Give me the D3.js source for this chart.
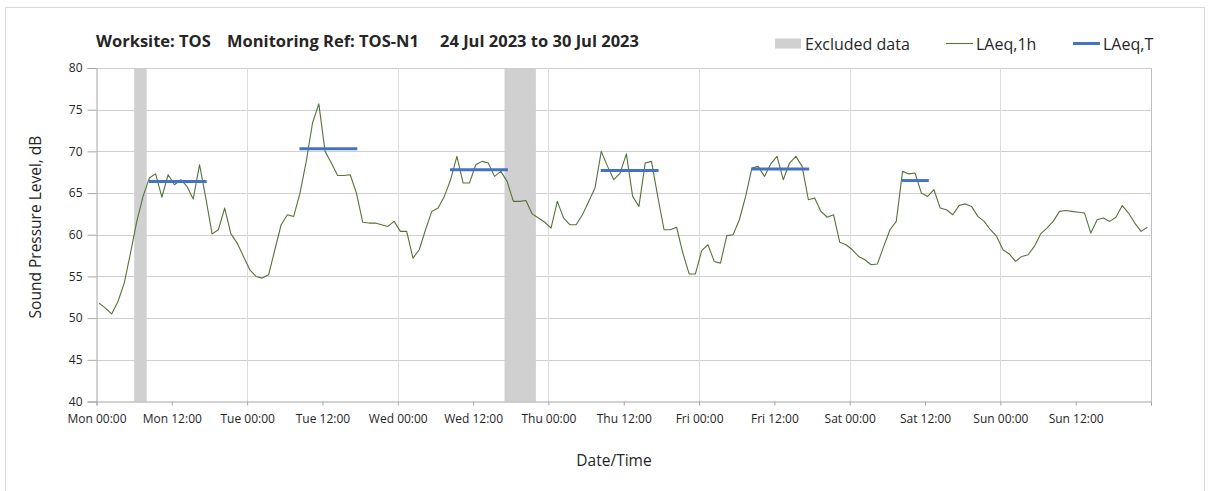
<!DOCTYPE html>
<html>
<head>
<meta charset="utf-8">
<script src="https://cdn.jsdelivr.net/npm/d3@7/dist/d3.min.js"></script>
<style>
  html, body { margin: 0; padding: 0; background: #ffffff; }
  svg { display: block; }
  text { font-family: "Open Sans", "Noto Sans", sans-serif; fill: #262626; }
</style>
</head>
<body>
<svg id="chart" width="1208" height="491"></svg>
<script>
// ---------------- DATA ----------------
const titleParts = ["Worksite: TOS", "Monitoring Ref: TOS-N1", "24 Jul 2023 to 30 Jul 2023"];
const startDate = new Date(2023, 6, 24, 0, 0);   // Mon 24 Jul 2023 00:00
const endDate = new Date(2023, 6, 31, 0, 0);     // Mon 31 Jul 2023 00:00
const sampleOffsetMinutes = 25;                  // hourly samples logged at HH:25

// LAeq,1h hourly values (dB), Mon 00 .. Sun 23
const laeq1h = [
  51.8, 51.2, 50.5, 52.0, 54.2, 57.8, 61.6, 64.6, 66.8, 67.3, 64.5, 67.2,
  66.0, 66.6, 65.8, 64.3, 68.4, 64.4, 60.1, 60.6, 63.2, 60.1, 59.0, 57.4,
  55.8, 55.0, 54.8, 55.2, 58.2, 61.2, 62.4, 62.2, 65.0, 68.8, 73.4, 75.7,
  70.0, 68.6, 67.1, 67.1, 67.2, 65.0, 61.5, 61.4, 61.4, 61.2, 61.0, 61.6,
  60.4, 60.4, 57.2, 58.2, 60.6, 62.8, 63.2, 64.6, 66.6, 69.4, 66.2, 66.2,
  68.4, 68.8, 68.6, 67.0, 67.6, 66.4, 64.0, 64.0, 64.1, 62.5, 62.0, 61.5,
  60.8, 64.0, 62.0, 61.2, 61.2, 62.4, 64.0, 65.6, 70.0, 68.2, 66.6, 67.4,
  69.7, 64.6, 63.4, 68.6, 68.8, 64.6, 60.6, 60.6, 60.9, 57.8, 55.3, 55.3,
  58.1, 58.8, 56.8, 56.6, 59.9, 60.0, 61.8, 64.6, 68.0, 68.2, 67.0, 68.5,
  69.4, 66.6, 68.6, 69.4, 68.2, 64.2, 64.4, 62.8, 62.1, 62.4, 59.1, 58.8,
  58.2, 57.4, 57.0, 56.4, 56.5, 58.6, 60.6, 61.6, 67.6, 67.3, 67.4, 65.0,
  64.6, 65.4, 63.2, 63.0, 62.4, 63.5, 63.7, 63.4, 62.2, 61.6, 60.6, 59.8,
  58.2, 57.7, 56.8, 57.4, 57.6, 58.6, 60.1, 60.8, 61.6, 62.8, 62.9, 62.8,
  62.7, 62.6, 60.2, 61.8, 62.0, 61.6, 62.1, 63.5, 62.6, 61.4, 60.4, 60.9
];

// LAeq,T daytime periods: day index, start hour, end hour, value
const laeqTDays   = [0, 1, 2, 3, 4, 5];
const laeqTStart  = [8.33, 8.33, 8.33, 8.33, 8.33, 8.33];
const laeqTEnd    = [17.55, 17.55, 17.55, 17.55, 17.55, 12.6];
const laeqTValues = [66.4, 70.3, 67.8, 67.7, 67.9, 66.5];

// Excluded data periods (hours from start)
const excludedStart = [6, 65];
const excludedEnd   = [8, 70];

const yTicks = [40, 45, 50, 55, 60, 65, 70, 75, 80];
const yTitle = "Sound Pressure Level, dB";
const xTitle = "Date/Time";
const legendLabels = ["Excluded data", "LAeq,1h", "LAeq,T"];

// ---------------- CHART ----------------
const svg = d3.select("#chart");
const plot = { left: 96.5, right: 1151, top: 68, bottom: 401.5 };

const hourMs = 3600 * 1000;
const addHours = h => new Date(startDate.getTime() + h * hourMs);

const x = d3.scaleTime().domain([startDate, endDate]).range([plot.left, plot.right]);
const y = d3.scaleLinear().domain([40, 80]).range([plot.bottom, plot.top]);

// outer frame
svg.append("rect")
  .attr("x", 5.5).attr("y", 7.5).attr("width", 1199).attr("height", 500)
  .attr("fill", "none").attr("stroke", "#d9d9d9").attr("stroke-width", 1);

// excluded bands
svg.append("g").selectAll("rect")
  .data(excludedStart.map((s, i) => ({ s, e: excludedEnd[i] })))
  .join("rect")
  .attr("x", d => x(addHours(d.s)))
  .attr("width", d => x(addHours(d.e)) - x(addHours(d.s)))
  .attr("y", plot.top)
  .attr("height", plot.bottom - plot.top)
  .attr("fill", "#d0d0d0");

// horizontal gridlines
svg.append("g").selectAll("line")
  .data(yTicks.filter(t => t > 40))
  .join("line")
  .attr("x1", plot.left).attr("x2", plot.right)
  .attr("y1", d => Math.round(y(d)) + 0.5).attr("y2", d => Math.round(y(d)) + 0.5)
  .attr("stroke", "#cfcfcf").attr("stroke-width", 1);

// vertical gridlines (day boundaries)
const dayTicks = d3.timeDay.range(d3.timeDay.offset(startDate, 1), d3.timeDay.offset(endDate, 1));
svg.append("g").selectAll("line")
  .data(dayTicks)
  .join("line")
  .attr("x1", d => Math.round(x(d)) + 0.5).attr("x2", d => Math.round(x(d)) + 0.5)
  .attr("y1", plot.top).attr("y2", plot.bottom)
  .attr("stroke", d => (+d === +endDate ? "#bfbfbf" : "#dcdcdc")).attr("stroke-width", 1);

// LAeq,1h line
const series = laeq1h.map((v, i) => ({ t: new Date(startDate.getTime() + i * hourMs + sampleOffsetMinutes * 60000), v }));
svg.append("path")
  .datum(series)
  .attr("fill", "none")
  .attr("stroke", "#55733a")
  .attr("stroke-width", 1.1)
  .attr("stroke-linejoin", "round")
  .attr("d", d3.line().x(d => x(d.t)).y(d => y(d.v)));

// LAeq,T segments
svg.append("g").selectAll("line")
  .data(laeqTDays.map((d, i) => ({ d, s: laeqTStart[i], e: laeqTEnd[i], v: laeqTValues[i] })))
  .join("line")
  .attr("x1", d => x(addHours(d.d * 24 + d.s)))
  .attr("x2", d => x(addHours(d.d * 24 + d.e)))
  .attr("y1", d => y(d.v)).attr("y2", d => y(d.v))
  .attr("stroke", "#4472c4").attr("stroke-width", 3);

// axes
const yAxis = d3.axisLeft(y).tickValues(yTicks).tickSize(9).tickPadding(5).tickFormat(d3.format("d"));
const yG = svg.append("g").attr("transform", `translate(${plot.left},0)`).call(yAxis);
yG.select(".domain").attr("stroke", "#a6a6a6");
yG.selectAll(".tick line").attr("stroke", "#a6a6a6");
yG.selectAll(".tick text").attr("font-size", 12).attr("fill", "#404040")
  .attr("font-family", "'Open Sans', sans-serif");

const xTickVals = d3.timeHour.every(12).range(startDate, d3.timeHour.offset(endDate, 1));
const fmt = d3.timeFormat("%a %H:%M");
const xAxis = d3.axisBottom(x).tickValues(xTickVals).tickSize(4).tickPadding(9)
  .tickFormat(d => (+d === +endDate ? "" : fmt(d)));
const xG = svg.append("g").attr("transform", `translate(0,${plot.bottom})`).call(xAxis);
xG.select(".domain").attr("stroke", "#a6a6a6");
xG.selectAll(".tick line").attr("stroke", "#a6a6a6");
xG.selectAll(".tick text").attr("font-size", 12).attr("fill", "#404040")
  .attr("font-family", "'Open Sans', sans-serif");

// axis titles
svg.append("text")
  .attr("transform", `translate(41,227) rotate(-90)`)
  .attr("text-anchor", "middle")
  .attr("font-size", 15.5)
  .text(yTitle);
svg.append("text")
  .attr("x", 614).attr("y", 466)
  .attr("text-anchor", "middle")
  .attr("font-size", 15.5)
  .text(xTitle);

// title
const titleX = [96, 227, 440];
titleParts.forEach((t, i) => {
  svg.append("text")
    .attr("x", titleX[i]).attr("y", 47)
    .attr("font-size", 16.5).attr("font-weight", "bold")
    .attr("fill", "#1a1a1a")
    .attr("font-family", "Lato, 'Open Sans', sans-serif")
    .text(t);
});

// legend
const lg = svg.append("g");
lg.append("rect").attr("x", 775).attr("y", 38.5).attr("width", 26).attr("height", 10).attr("fill", "#d0d0d0");
lg.append("text").attr("x", 805).attr("y", 49.5).attr("font-size", 16).text(legendLabels[0]);
lg.append("line").attr("x1", 946).attr("x2", 973).attr("y1", 43.5).attr("y2", 43.5)
  .attr("stroke", "#55733a").attr("stroke-width", 1.1);
lg.append("text").attr("x", 976).attr("y", 49.5).attr("font-size", 16).text(legendLabels[1]);
lg.append("line").attr("x1", 1073).attr("x2", 1100).attr("y1", 43.5).attr("y2", 43.5)
  .attr("stroke", "#4472c4").attr("stroke-width", 3);
lg.append("text").attr("x", 1103).attr("y", 49.5).attr("font-size", 16).text(legendLabels[2]);
</script>
</body>
</html>
